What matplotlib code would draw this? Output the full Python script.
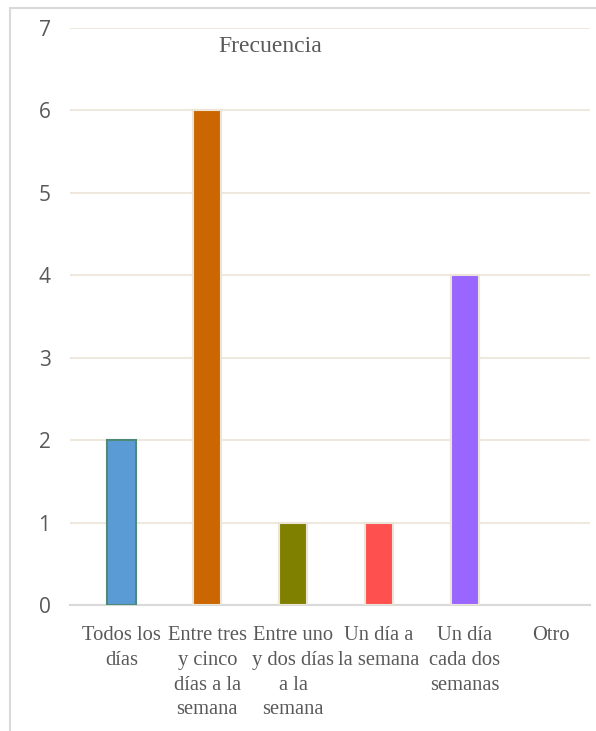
import matplotlib.pyplot as plt
from matplotlib.patches import Rectangle

categories = ["Todos los\ndías", "Entre tres\ny cinco\ndías a la\nsemana",
              "Entre uno\ny dos días\na la\nsemana", "Un día a\nla semana",
              "Un día\ncada dos\nsemanas", "Otro"]
values = [2, 6, 1, 1, 4, 0]
colors = ["#5B9BD5", "#CC6600", "#808000", "#FF5050", "#9966FF", "#A5A5A5"]
edges = ["#4E8A78", "#EDE4D8", "#EDE4D8", "#EDE4D8", "#EDE4D8", "none"]

fig = plt.figure(figsize=(5.96, 7.31), dpi=100)
fig.patches.append(Rectangle((10 / 596, -0.01), 1.0, 1 - 8 / 731 + 0.01,
                             transform=fig.transFigure, fill=False,
                             edgecolor="#D9D9D9", linewidth=1.5))

ax = fig.add_axes([70 / 596, (731 - 605) / 731, 520 / 596, (605 - 28) / 731])
x = range(len(categories))
ax.bar(x, values, width=0.33, color=colors, edgecolor=edges, linewidth=1.5, zorder=3)

ax.set_ylim(0, 7)
ax.set_xlim(-0.6, 5.46)
ax.set_yticks(range(8))
ax.grid(axis="y", color="#EEE8DF", linewidth=1.5, zorder=0)
for s in ["top", "right", "left"]:
    ax.spines[s].set_visible(False)
ax.spines["bottom"].set_color("#D9D9D9")
ax.spines["bottom"].set_linewidth(1.5)
ax.tick_params(axis="both", length=0)
ax.tick_params(axis="y", pad=14)
ax.set_yticklabels([str(i) for i in range(8)], family="Open Sans", fontsize=15, color="#595959")
ax.set_xticks(list(x))
ax.set_xticklabels(categories, family="Liberation Serif", fontsize=14.8,
                   color="#595959", linespacing=1.42, va="top")
ax.tick_params(axis="x", pad=15)

fig.text(270 / 596, 1 - 46 / 731, "Frecuencia", family="Liberation Serif",
         fontsize=17, color="#595959", ha="center", va="center")

fig.savefig("out.png", dpi=100)
